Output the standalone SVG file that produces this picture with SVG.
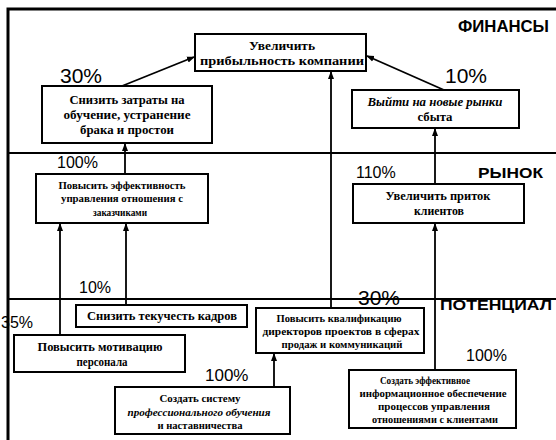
<svg xmlns="http://www.w3.org/2000/svg" width="556" height="440" viewBox="0 0 556 440">
<defs>
<marker id="ah" markerWidth="8" markerHeight="8" refX="7" refY="4" orient="auto" markerUnits="userSpaceOnUse">
<path d="M0,1 L8,4 L0,7 Z" fill="#000"/>
</marker>
<style>
.frame{fill:none;stroke:#000;stroke-width:3}
.div{stroke:#000;stroke-width:2.2}
.box rect{fill:#fff;stroke:#000;stroke-width:2}
.box text{font-weight:bold;font-size:12px;text-anchor:middle;fill:#000}
.box text.s{font-size:11px}
.box text.i{font-style:italic}
.lbl{fill:#000}
.sec{font-weight:bold;fill:#000}
.conn line{stroke:#000;stroke-width:1.8;marker-end:url(#ah)}
</style>
</defs>
<rect width="556" height="440" fill="#fff"/>
<path class="frame" d="M8,440 L8,9 L556,9"/>
<line class="div" x1="8" y1="153" x2="556" y2="153"/>
<line class="div" x1="8" y1="299" x2="556" y2="299"/>

<g font-family="'Liberation Sans', Arial, sans-serif">
<text class="sec" x="458" y="32" font-size="16" textLength="91" lengthAdjust="spacingAndGlyphs">ФИНАНСЫ</text>
<text class="sec" x="478" y="178" font-size="15" textLength="65" lengthAdjust="spacingAndGlyphs">РЫНОК</text>
<text class="sec" x="440" y="310" font-size="15" textLength="112" lengthAdjust="spacingAndGlyphs">ПОТЕНЦИАЛ</text>
</g>

<g id="connectors" class="conn">
<line x1="122" y1="86" x2="194" y2="57"/>
<line x1="444" y1="90" x2="367" y2="56"/>
<line x1="331" y1="308" x2="331" y2="72"/>
<line x1="125" y1="174" x2="125" y2="144"/>
<line x1="435" y1="184" x2="435" y2="129"/>
<line x1="60" y1="335" x2="60" y2="224"/>
<line x1="126" y1="305" x2="126" y2="224"/>
<line x1="274" y1="387" x2="274" y2="354"/>
<line x1="435" y1="370" x2="435" y2="224"/>
</g>

<g font-family="'Liberation Sans', Arial, sans-serif">
<text class="lbl" x="60" y="83" font-size="21">30%</text>
<text class="lbl" x="445" y="83" font-size="21">10%</text>
<text class="lbl" x="57" y="168" font-size="16">100%</text>
<text class="lbl" x="356" y="178" font-size="16">110%</text>
<text class="lbl" x="79" y="293" font-size="16">10%</text>
<text class="lbl" x="1" y="328" font-size="16">35%</text>
<text class="lbl" x="205" y="381" font-size="17">100%</text>
<text class="lbl" x="358" y="305" font-size="21">30%</text>
<text class="lbl" x="466" y="361" font-size="16">100%</text>
</g>

<g font-family="'Liberation Serif', 'DejaVu Serif', 'Times New Roman', serif">
<g id="n1" class="box">
<rect x="195" y="34" width="171" height="37"/>
<text x="282" y="50" textLength="66" lengthAdjust="spacingAndGlyphs">Увеличить</text>
<text x="282" y="65" textLength="164" lengthAdjust="spacingAndGlyphs">прибыльность компании</text>
</g>
<g id="n2" class="box">
<rect x="42" y="86" width="170" height="57"/>
<text x="127" y="104" textLength="115" lengthAdjust="spacingAndGlyphs">Снизить затраты на</text>
<text x="127" y="119" textLength="127" lengthAdjust="spacingAndGlyphs">обучение, устранение</text>
<text x="127" y="134" textLength="94" lengthAdjust="spacingAndGlyphs">брака и простои</text>
</g>
<g id="n3" class="box">
<rect x="352" y="90" width="167" height="38"/>
<text class="i" x="435" y="106" textLength="135" lengthAdjust="spacingAndGlyphs">Выйти на новые рынки</text>
<text x="435" y="121" textLength="35" lengthAdjust="spacingAndGlyphs">сбыта</text>
</g>
<g id="n4" class="box">
<rect x="36" y="174" width="172" height="49"/>
<text class="s" x="122" y="189" textLength="127" lengthAdjust="spacingAndGlyphs">Повысить эффективность</text>
<text class="s" x="122" y="202" textLength="122" lengthAdjust="spacingAndGlyphs">управления отношения с</text>
<text class="s" x="120" y="216" textLength="54" lengthAdjust="spacingAndGlyphs">заказчиками</text>
</g>
<g id="n5" class="box">
<rect x="353" y="184" width="171" height="39"/>
<text x="438" y="200" textLength="105" lengthAdjust="spacingAndGlyphs">Увеличить приток</text>
<text x="439" y="215" textLength="50" lengthAdjust="spacingAndGlyphs">клиентов</text>
</g>
<g id="n6" class="box">
<rect x="76" y="305" width="171" height="22"/>
<text x="162" y="320" textLength="150" lengthAdjust="spacingAndGlyphs">Снизить текучесть кадров</text>
</g>
<g id="n7" class="box">
<rect x="14" y="335" width="171" height="37"/>
<text x="100" y="351" textLength="125" lengthAdjust="spacingAndGlyphs">Повысить мотивацию</text>
<text x="102" y="366" textLength="51" lengthAdjust="spacingAndGlyphs">персонала</text>
</g>
<g id="n8" class="box">
<rect x="256" y="308" width="168" height="45"/>
<text class="s" x="339" y="322" textLength="125" lengthAdjust="spacingAndGlyphs">Повысить квалификацию</text>
<text class="s" x="341" y="335" textLength="157" lengthAdjust="spacingAndGlyphs">директоров проектов в сферах</text>
<text class="s" x="342" y="348" textLength="121" lengthAdjust="spacingAndGlyphs">продаж и коммуникаций</text>
</g>
<g id="n9" class="box">
<rect x="115" y="387" width="175" height="47"/>
<text class="s" x="200" y="402" textLength="81" lengthAdjust="spacingAndGlyphs">Создать систему</text>
<text class="s i" x="199" y="416" textLength="143" lengthAdjust="spacingAndGlyphs">профессионального обучения</text>
<text class="s" x="200" y="429" textLength="85" lengthAdjust="spacingAndGlyphs">и наставничества</text>
</g>
<g id="n10" class="box">
<rect x="349" y="370" width="167" height="58"/>
<text class="s" x="425" y="384" textLength="90" lengthAdjust="spacingAndGlyphs">Создать эффективное</text>
<text class="s" x="433" y="397" textLength="147" lengthAdjust="spacingAndGlyphs">информационное обеспечение</text>
<text class="s" x="434" y="410" textLength="112" lengthAdjust="spacingAndGlyphs">процессов управления</text>
<text class="s" x="435" y="423" textLength="126" lengthAdjust="spacingAndGlyphs">отношениями с клиентами</text>
</g>
</g>
</svg>
